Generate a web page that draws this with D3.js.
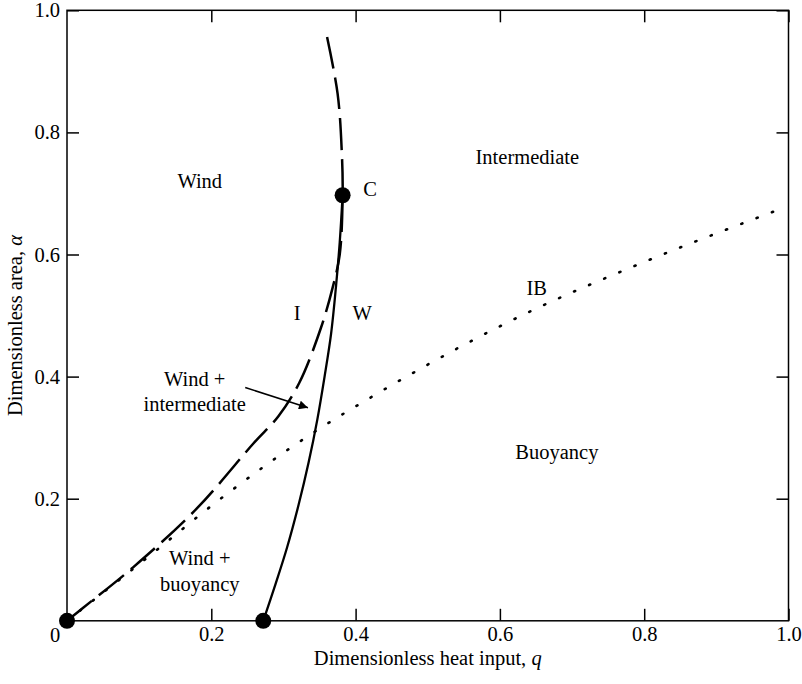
<!DOCTYPE html>
<html>
<head>
<meta charset="utf-8">
<script src="https://cdn.jsdelivr.net/npm/d3@7"></script>
<style>
  html, body { margin: 0; padding: 0; background: #fff; }
  svg text { font-family: "Liberation Serif", "Times New Roman", "DejaVu Serif", serif !important; }
</style>
</head>
<body>
<svg id="chart" width="802" height="684"></svg>
<script>
// Regime boundaries in the (q, alpha) plane
const wCurve = [ // solid boundary W
  [0.272, 0.000], [0.289, 0.060], [0.305, 0.120], [0.321, 0.190],
  [0.335, 0.260], [0.347, 0.330], [0.357, 0.400], [0.366, 0.470],
  [0.373, 0.550], [0.378, 0.620], [0.382, 0.697]
];
const iCurve = [ // dashed boundary I
  [0.000, 0.000], [0.022, 0.021], [0.092, 0.088], [0.180, 0.184],
  [0.258, 0.290], [0.293, 0.335], [0.322, 0.390], [0.352, 0.480],
  [0.368, 0.545], [0.378, 0.600], [0.382, 0.697], [0.381, 0.764],
  [0.375, 0.864], [0.358, 0.970]
];
const ibCurve = [ // dotted boundary IB
  [0.000, 0.000], [0.115, 0.107], [0.202, 0.190], [0.345, 0.311],
  [0.424, 0.368], [0.646, 0.509], [0.780, 0.578], [0.981, 0.671]
];
const keyPoints = [[0.000, 0.000], [0.272, 0.000], [0.382, 0.697]];

const tickValues = [0.2, 0.4, 0.6, 0.8, 1.0];
const tickLabels = ["0.2", "0.4", "0.6", "0.8", "1.0"];

// Region and curve labels, anchored at data coordinates
const labels = [
  { text: "Wind", q: 0.184, a: 0.721 },
  { text: "Intermediate", q: 0.638, a: 0.760 },
  { text: "C", q: 0.420, a: 0.708 },
  { text: "I", q: 0.319, a: 0.504 },
  { text: "W", q: 0.409, a: 0.504 },
  { text: "IB", q: 0.651, a: 0.545 },
  { text: "Wind +", q: 0.177, a: 0.396 },
  { text: "intermediate", q: 0.177, a: 0.356 },
  { text: "Buoyancy", q: 0.679, a: 0.276 },
  { text: "Wind +", q: 0.184, a: 0.1025 },
  { text: "buoyancy", q: 0.184, a: 0.060 }
];
const arrow = { from: [0.247, 0.382], to: [0.334, 0.349] };

const svg = d3.select("#chart");
const x = d3.scaleLinear().domain([0, 1]).range([67, 788.5]);
const y = d3.scaleLinear().domain([0, 1]).range([620.8, 10.3]);
const fs = 20.5;
const serif = "Liberation Serif, Times New Roman, serif";

// Frame
svg.append("rect")
  .attr("x", x(0)).attr("y", y(1))
  .attr("width", x(1) - x(0)).attr("height", y(0) - y(1))
  .attr("fill", "none").attr("stroke", "#000").attr("stroke-width", 1.5);

function styleAxis(g, showLabels) {
  g.attr("font-family", serif).attr("font-size", fs);
  g.select(".domain").remove();
  g.selectAll(".tick line").attr("stroke", "#000").attr("stroke-width", 1.5);
  g.selectAll(".tick text").attr("fill", "#000");
  if (!showLabels) g.selectAll(".tick text").remove();
}

svg.append("g").attr("transform", `translate(0,${y(0)})`)
  .call(d3.axisBottom(x).tickValues(tickValues).tickFormat((d, i) => tickLabels[i])
    .tickSizeInner(-12).tickSizeOuter(0).tickPadding(6))
  .call(g => styleAxis(g, true));
svg.append("g").attr("transform", `translate(0,${y(1)})`)
  .call(d3.axisTop(x).tickValues(tickValues).tickSizeInner(-12).tickSizeOuter(0))
  .call(g => styleAxis(g, false));
svg.append("g").attr("transform", `translate(${x(0)},0)`)
  .call(d3.axisLeft(y).tickValues(tickValues).tickFormat((d, i) => tickLabels[i])
    .tickSizeInner(-12).tickSizeOuter(0).tickPadding(7))
  .call(g => styleAxis(g, true));
svg.append("g").attr("transform", `translate(${x(1)},0)`)
  .call(d3.axisRight(y).tickValues(tickValues).tickSizeInner(-12).tickSizeOuter(0))
  .call(g => styleAxis(g, false));

// Shared origin label
svg.append("text").attr("x", x(0) - 12).attr("y", y(0) + 14)
  .attr("dy", "0.35em").attr("text-anchor", "middle").attr("font-size", fs).text("0");

// Axis titles
svg.append("text").attr("x", (x(0) + x(1)) / 2).attr("y", 665)
  .attr("text-anchor", "middle").attr("font-size", fs)
  .call(t => {
    t.append("tspan").text("Dimensionless heat input, ");
    t.append("tspan").attr("font-style", "italic").text("q");
  });
svg.append("text")
  .attr("transform", `translate(22,${(y(0) + y(1)) / 2 + 10}) rotate(-90)`)
  .attr("text-anchor", "middle").attr("font-size", fs)
  .call(t => {
    t.append("tspan").text("Dimensionless area, ");
    t.append("tspan").attr("font-style", "italic").text("α");
  });

// Curves
const line = d3.line().x(d => x(d[0])).y(d => y(d[1])).curve(d3.curveCatmullRom.alpha(0.5));
const lineX = d3.line().x(d => x(d[0])).y(d => y(d[1])).curve(d3.curveMonotoneX);

svg.append("path").datum(ibCurve).attr("d", lineX)
  .attr("fill", "none").attr("stroke", "#000").attr("stroke-width", 2.6)
  .attr("stroke-linecap", "round").attr("stroke-dasharray", "1.2,15.2");

svg.append("path").datum(iCurve).attr("d", line)
  .attr("fill", "none").attr("stroke", "#000").attr("stroke-width", 2.5)
  .attr("stroke-dasharray", "32,9");

svg.append("path").datum(wCurve).attr("d", line)
  .attr("fill", "none").attr("stroke", "#000").attr("stroke-width", 2.3);

// Key points
svg.selectAll("circle.key").data(keyPoints).join("circle")
  .attr("class", "key")
  .attr("cx", d => x(d[0])).attr("cy", d => y(d[1])).attr("r", 8)
  .attr("fill", "#000");

// Labels
svg.selectAll("text.lbl").data(labels).join("text")
  .attr("class", "lbl")
  .attr("x", d => x(d.q)).attr("y", d => y(d.a)).attr("dy", "0.35em")
  .attr("text-anchor", "middle").attr("font-size", fs).attr("fill", "#000")
  .text(d => d.text);

// Pointer arrow
svg.append("defs").append("marker")
  .attr("id", "head").attr("viewBox", "0 0 10 10").attr("refX", 10).attr("refY", 5)
  .attr("markerWidth", 12).attr("markerHeight", 9).attr("markerUnits", "userSpaceOnUse")
  .attr("orient", "auto")
  .append("path").attr("d", "M0,0 L10,5 L0,10 Z").attr("fill", "#000");
svg.append("line")
  .attr("x1", x(arrow.from[0])).attr("y1", y(arrow.from[1]))
  .attr("x2", x(arrow.to[0])).attr("y2", y(arrow.to[1]))
  .attr("stroke", "#000").attr("stroke-width", 1.5).attr("marker-end", "url(#head)");
</script>
</body>
</html>
